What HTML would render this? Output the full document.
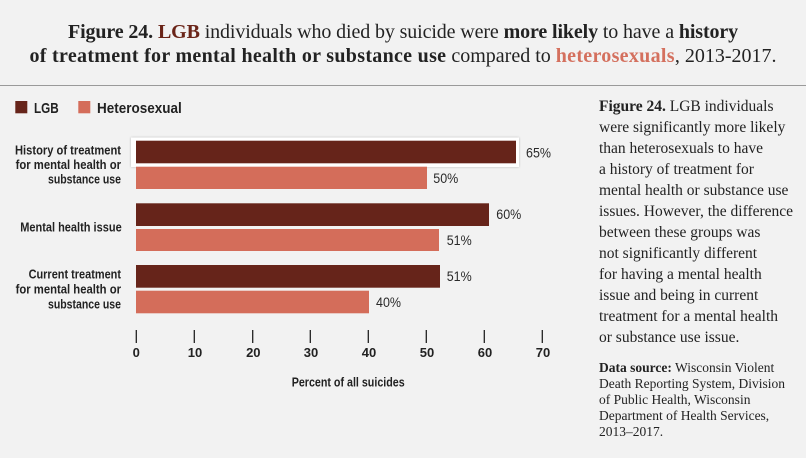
<!DOCTYPE html>
<html><head><meta charset="utf-8">
<style>
html,body{margin:0;padding:0;}
body{width:806px;height:458px;background:#f2f2f2;position:relative;overflow:hidden;font-family:"Liberation Serif",serif;color:#222;}
.title{position:absolute;left:0;top:21px;width:806px;text-align:center;font-size:20px;line-height:23.5px;white-space:nowrap;}
.title b{font-weight:bold;}
.l1{letter-spacing:-0.12px;}
.l2 b{letter-spacing:0.3px;}
.sep{position:absolute;left:0;top:85px;width:806px;height:1px;background:#9a9a9a;}
.side{position:absolute;left:599px;top:95.5px;font-size:15.5px;line-height:21px;white-space:nowrap;color:#222;}
.src{position:absolute;left:599px;top:359.5px;font-size:13.5px;line-height:16px;white-space:nowrap;color:#222;}
svg{position:absolute;left:0;top:0;}
</style></head><body>
<div class="title"><span class="l1"><b>Figure 24.</b> <b style="color:#6a2418">LGB</b> individuals who died by suicide were <b>more likely</b> to have a <b>history</b></span><br><span class="l2"><b>of treatment for mental health or substance use</b> compared to <b style="color:#d4705e">heterosexuals</b>, 2013-2017.</span></div>
<div class="sep"></div>
<svg width="806" height="458" viewBox="0 0 806 458" font-family="Liberation Sans, sans-serif">
  <defs>
    <filter id="sh" x="-5%" y="-20%" width="110%" height="140%">
      <feDropShadow dx="0" dy="0" stdDeviation="1" flood-color="#000" flood-opacity="0.25"/>
    </filter>
  </defs>
  <!-- legend -->
  <rect x="15.3" y="101" width="12" height="12.3" fill="#66241a"/>
  <text x="34" y="113" font-size="15" font-weight="bold" fill="#222" textLength="24.7" lengthAdjust="spacingAndGlyphs">LGB</text>
  <rect x="78.3" y="101" width="12" height="12.3" fill="#d46d5a"/>
  <text x="97" y="113" font-size="15" font-weight="bold" fill="#222" textLength="84.7" lengthAdjust="spacingAndGlyphs">Heterosexual</text>

  <!-- highlight box -->
  <rect x="131" y="137.5" width="388" height="29.5" fill="#ffffff" filter="url(#sh)"/>

  <!-- bars -->
  <rect x="136" y="140.7" width="380" height="22.6" fill="#66241a"/>
  <rect x="136" y="166.7" width="291" height="22.3" fill="#d46d5a"/>
  <rect x="136" y="203.3" width="353" height="22.7" fill="#66241a"/>
  <rect x="136" y="229" width="303" height="22" fill="#d46d5a"/>
  <rect x="136" y="265" width="304" height="22.7" fill="#66241a"/>
  <rect x="136" y="290.7" width="233" height="22.6" fill="#d46d5a"/>

  <!-- value labels -->
  <g font-size="13.5" fill="#2a2a2a">
    <text x="526" y="157.5" textLength="25" lengthAdjust="spacingAndGlyphs">65%</text>
    <text x="433.3" y="183" textLength="25" lengthAdjust="spacingAndGlyphs">50%</text>
    <text x="496.3" y="219" textLength="25" lengthAdjust="spacingAndGlyphs">60%</text>
    <text x="446.7" y="245" textLength="25" lengthAdjust="spacingAndGlyphs">51%</text>
    <text x="446.7" y="281" textLength="25" lengthAdjust="spacingAndGlyphs">51%</text>
    <text x="376" y="307" textLength="25" lengthAdjust="spacingAndGlyphs">40%</text>
  </g>

  <!-- category labels -->
  <g font-size="12.5" font-weight="bold" fill="#222" text-anchor="end">
    <text x="121" y="154.3" textLength="106" lengthAdjust="spacingAndGlyphs">History of treatment</text>
    <text x="121" y="169" textLength="105.4" lengthAdjust="spacingAndGlyphs">for mental health or</text>
    <text x="121" y="183.6" textLength="73" lengthAdjust="spacingAndGlyphs">substance use</text>
    <text x="121.7" y="231.6" textLength="101.5" lengthAdjust="spacingAndGlyphs">Mental health issue</text>
    <text x="121" y="278.6" textLength="92.4" lengthAdjust="spacingAndGlyphs">Current treatment</text>
    <text x="121" y="293.3" textLength="105.4" lengthAdjust="spacingAndGlyphs">for mental health or</text>
    <text x="121" y="308.6" textLength="73" lengthAdjust="spacingAndGlyphs">substance use</text>
  </g>

  <!-- ticks -->
  <g stroke="#222" stroke-width="1.3">
    <line x1="136.3" y1="330" x2="136.3" y2="343"/>
    <line x1="194.3" y1="330" x2="194.3" y2="343"/>
    <line x1="252.7" y1="330" x2="252.7" y2="343"/>
    <line x1="310.3" y1="330" x2="310.3" y2="343"/>
    <line x1="368.3" y1="330" x2="368.3" y2="343"/>
    <line x1="426.3" y1="330" x2="426.3" y2="343"/>
    <line x1="484.3" y1="330" x2="484.3" y2="343"/>
    <line x1="542.3" y1="330" x2="542.3" y2="343"/>
  </g>
  <g font-size="13" font-weight="bold" fill="#222" text-anchor="middle">
    <text x="136.3" y="357">0</text>
    <text x="195" y="357">10</text>
    <text x="253.3" y="357">20</text>
    <text x="311" y="357">30</text>
    <text x="369" y="357">40</text>
    <text x="427" y="357">50</text>
    <text x="485" y="357">60</text>
    <text x="543" y="357">70</text>
  </g>
  <text x="291.7" y="386.5" font-size="12.5" font-weight="bold" fill="#222" textLength="113" lengthAdjust="spacingAndGlyphs">Percent of all suicides</text>
</svg>
<div class="side"><b>Figure 24.</b> LGB individuals<br>were significantly more likely<br>than heterosexuals to have<br>a history of treatment for<br>mental health or substance use<br>issues. However, the difference<br>between these groups was<br>not significantly different<br>for having a mental health<br>issue and being in current<br>treatment for a mental health<br>or substance use issue.</div>
<div class="src"><b>Data source:</b> Wisconsin Violent<br>Death Reporting System, Division<br>of Public Health, Wisconsin<br>Department of Health Services,<br>2013–2017.</div>
</body></html>
